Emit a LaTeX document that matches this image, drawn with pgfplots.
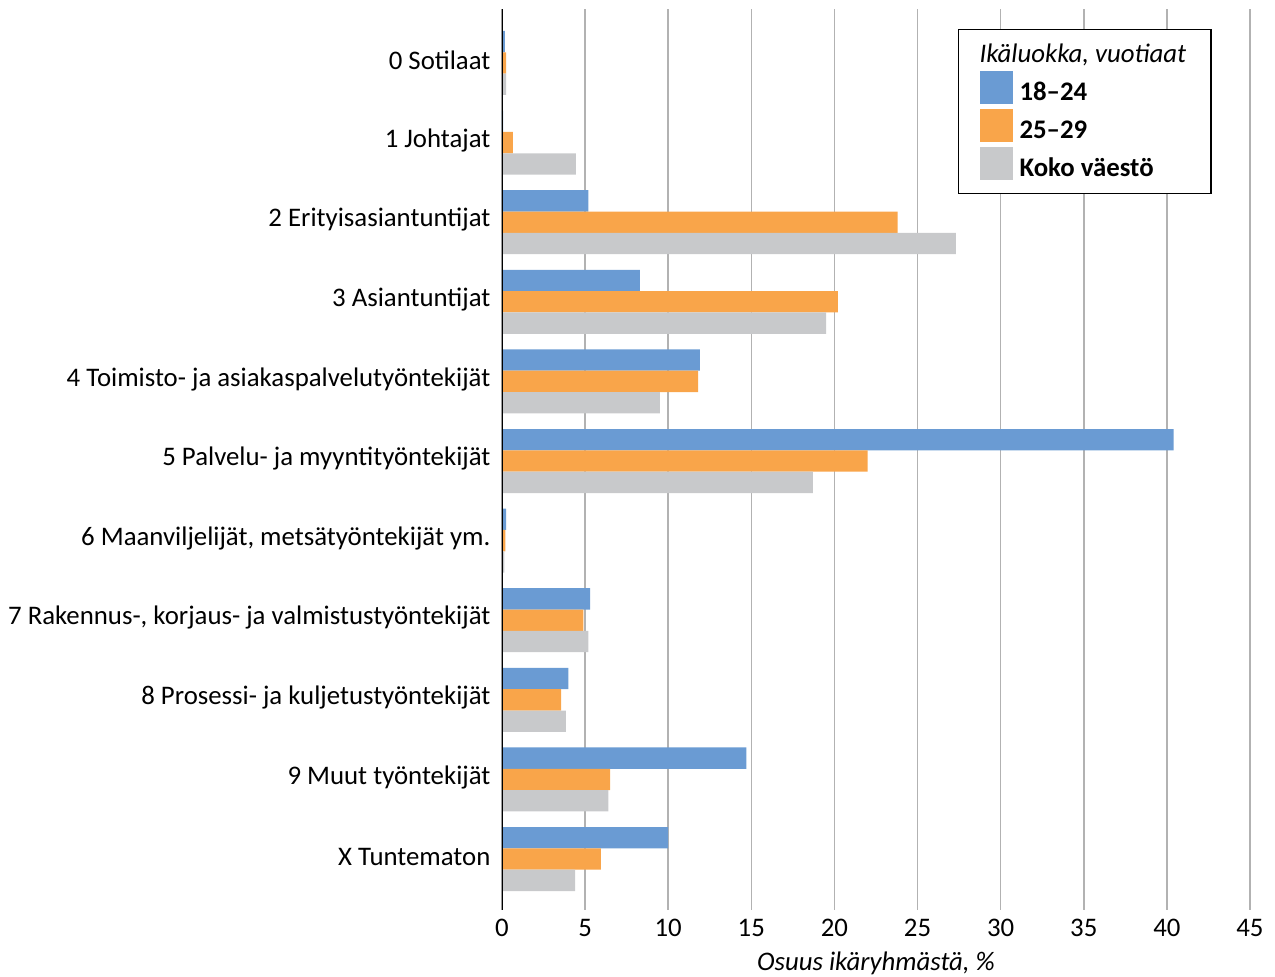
\documentclass[border=0pt]{standalone}
\usepackage{fontspec}
\setmainfont{Carlito}
\usepackage{pgfplots}
\pgfplotsset{compat=1.18}
\definecolor{cblue}{HTML}{6A9BD3}
\definecolor{corange}{HTML}{F9A54A}
\definecolor{cgrey}{HTML}{C8C9CB}

\begin{document}
\begin{tikzpicture}
\useasboundingbox (-251pt,-33pt) rectangle (386.5pt,455pt);
\begin{axis}[
  at={(0,0)}, anchor=south west,
  scale only axis, width=374pt, height=450.5pt,
  xbar, bar width=0.268,
  xmin=0, xmax=45, ymin=-0.678, ymax=10.64,
  y dir=reverse,
  ytick={0,...,10},
  yticklabels={0 Sotilaat, 1 Johtajat, 2 Erityisasiantuntijat, 3 Asiantuntijat,
    4 Toimisto- ja asiakaspalvelutyöntekijät, 5 Palvelu- ja myyntityöntekijät,
    {6 Maanviljelijät, metsätyöntekijät ym.}, {7 Rakennus-, korjaus- ja valmistustyöntekijät},
    8 Prosessi- ja kuljetustyöntekijät, 9 Muut työntekijät, X Tuntematon},
  xtick={0,5,...,45},
  axis lines*=left,
  x axis line style={draw=none},
  y axis line style={draw=none},
  tick style={draw=none},
  xmajorgrids, major grid style={black!30, line width=0.8pt},
  ticklabel style={font=\fontsize{13.4}{15}\selectfont},
  yticklabel style={xshift=2pt, yshift=1.2pt},
  xticklabel style={yshift=-1pt},
  /pgf/number format/assume math mode=true,
  xlabel={\itshape Osuus ikäryhmästä, \%},
  xlabel style={font=\fontsize{13.4}{15}\selectfont, yshift=-1pt},
  legend style={at={(rel axis cs:0.6096,0.9778)}, anchor=north west,
    draw=black, line width=0.6pt, font=\bfseries\fontsize{13.4}{15}\selectfont,
    inner xsep=10.5pt, inner ysep=5pt, row sep=0.75pt},
  legend cell align=left,
  legend image code/.code={\fill[#1] (0pt,-5.5pt) rectangle (16.5pt,11pt); \path (18pt,0pt);},
]
\addlegendimage{empty legend}
\addlegendentry{\hspace*{-20pt}\normalfont\itshape Ikäluokka, vuotiaat}
\addplot[fill=cblue, draw=none, bar shift=-0.268] coordinates {
  (0.18,0) (0.07,1) (5.2,2) (8.3,3) (11.9,4) (40.4,5) (0.25,6) (5.3,7) (4.0,8) (14.7,9) (10.0,10)};
\addlegendentry{18--24}
\addplot[fill=corange, draw=none, bar shift=0] coordinates {
  (0.25,0) (0.65,1) (23.8,2) (20.2,3) (11.8,4) (22.0,5) (0.2,6) (4.9,7) (3.55,8) (6.5,9) (5.95,10)};
\addlegendentry{25--29}
\addplot[fill=cgrey, draw=none, bar shift=0.268] coordinates {
  (0.25,0) (4.45,1) (27.3,2) (19.5,3) (9.5,4) (18.7,5) (0.15,6) (5.2,7) (3.85,8) (6.4,9) (4.4,10)};
\addlegendentry{Koko väestö}
\draw[black, line width=1.2pt] (axis cs:0,-0.678) -- (axis cs:0,10.64);
\end{axis}
\end{tikzpicture}
\end{document}
